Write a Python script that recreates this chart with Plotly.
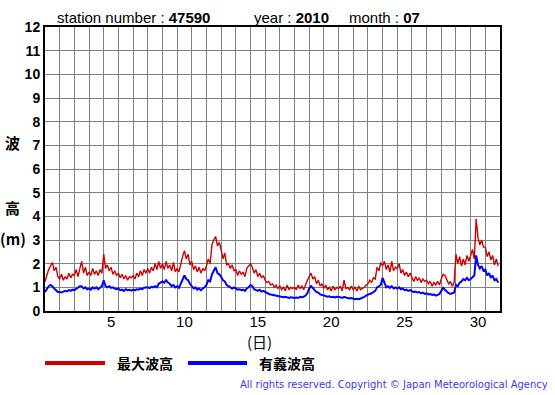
import plotly.graph_objects as go

# ---- data (8 samples per day, 3-hourly) ----
station = "47590"
year = "2010"
month = "07"
samples_per_day = 8

max_wave = [
    1.25, 1.55, 1.75, 1.9, 2.05, 1.7, 1.85, 1.45,
    1.35, 1.55, 1.3, 1.45, 1.35, 1.6, 1.4, 1.55,
    1.5, 1.75, 1.45, 1.8, 2.1, 1.6, 1.85, 1.5,
    1.65, 1.5, 1.8, 1.55, 1.7, 1.5, 1.75, 1.6,
    2.4, 1.8, 1.95, 1.7, 1.85, 1.55, 1.7, 1.5,
    1.6, 1.4, 1.55, 1.35, 1.5, 1.3, 1.45, 1.4,
    1.5, 1.35, 1.6, 1.45, 1.7, 1.5, 1.75, 1.6,
    1.8, 1.6, 1.85, 1.7, 2.0, 1.75, 2.1, 1.8,
    2.0, 1.75, 2.1, 1.8, 1.95, 1.7, 2.05, 1.65,
    1.8, 1.65, 2.0, 2.3, 2.55, 2.2, 2.4, 1.95,
    2.1, 1.75, 1.9, 1.65, 1.85, 1.6, 1.8, 1.7,
    1.9, 2.2, 2.0, 2.8, 3.0, 3.15, 2.75, 2.9,
    2.6, 2.2, 2.45, 1.95, 2.0, 1.8, 1.95, 1.7,
    1.75, 1.5, 1.7, 1.55, 1.65, 1.45, 1.8, 1.9,
    2.0, 1.85, 1.6, 1.75, 1.45, 1.6, 1.4, 1.5,
    1.3, 1.2, 1.25, 1.1, 1.15, 1.0, 1.1, 0.95,
    1.05, 0.9, 1.0, 0.85, 1.1, 0.9, 1.0, 0.95,
    1.0, 0.9, 1.1, 0.95, 1.05, 0.9, 1.15, 1.3,
    1.45, 1.6, 1.35, 1.45, 1.15, 1.3, 1.05, 1.15,
    0.95, 1.1, 0.9, 1.0, 0.85, 1.05, 0.9, 1.0,
    0.95, 1.05, 0.85, 1.3, 0.95, 1.0, 0.9, 1.05,
    0.9, 1.0, 0.85, 1.05, 0.9, 0.95, 1.0, 1.1,
    1.15, 1.3, 1.2, 1.4, 1.35, 1.85, 1.7, 2.05,
    1.9, 2.1, 1.75, 1.95, 1.65, 2.1, 1.7, 1.85,
    1.8, 2.0, 1.6, 1.75, 1.5, 1.65, 1.45, 1.6,
    1.4, 1.25, 1.45, 1.3, 1.4, 1.2, 1.35, 1.25,
    1.3, 1.15, 1.25, 1.05, 1.2, 1.1, 1.25, 1.1,
    1.35, 1.55, 1.5, 1.3, 1.15, 1.25, 1.05, 1.2,
    2.4, 2.0, 2.3, 1.9, 2.2, 1.95, 2.35, 2.1,
    2.4, 2.6, 2.2, 3.9, 3.1, 2.8, 3.0, 2.7,
    2.7, 2.3, 2.5, 2.15, 2.35, 1.95, 2.2, 1.9,
]

sig_wave = [
    0.8, 0.95, 1.05, 1.1, 1.05, 0.95, 0.85, 0.8,
    0.8, 0.78, 0.82, 0.85, 0.83, 0.88, 0.85, 0.9,
    0.88, 0.95, 1.0, 1.05, 1.05, 0.95, 1.0, 0.92,
    0.95, 0.9, 1.0, 0.95, 1.0, 0.92, 0.98, 1.05,
    1.3, 1.05, 1.0, 1.05, 0.98, 1.0, 0.95, 0.92,
    0.95, 0.88, 0.9, 0.85, 0.92, 0.88, 0.9, 0.86,
    0.9, 0.87, 0.92, 0.9, 0.95, 0.92, 0.98, 1.0,
    1.0, 0.97, 1.02, 1.0, 1.05, 1.0, 1.15, 1.2,
    1.25, 1.2, 1.3, 1.2, 1.15, 1.05, 1.1, 1.0,
    1.05, 0.98, 1.15, 1.35, 1.5, 1.35, 1.3, 1.15,
    1.05, 0.95, 1.0, 0.9, 0.95, 0.88, 0.95, 1.0,
    1.1, 1.3, 1.25, 1.55, 1.7, 1.85, 1.6, 1.55,
    1.45, 1.3, 1.25, 1.1, 1.05, 1.0, 0.95, 1.0,
    0.95, 0.9, 0.92, 0.88, 0.9, 0.85, 0.95, 1.0,
    1.1, 1.05, 0.92, 0.88, 0.85, 0.9, 0.82, 0.85,
    0.8, 0.75, 0.72, 0.7, 0.68, 0.65, 0.63, 0.62,
    0.62, 0.6, 0.58, 0.6, 0.57, 0.55, 0.58, 0.56,
    0.55, 0.57, 0.55, 0.6, 0.58, 0.6, 0.65, 0.75,
    0.95, 1.05, 0.95, 0.85, 0.8, 0.78, 0.7, 0.68,
    0.65, 0.62, 0.6, 0.62, 0.58, 0.6, 0.57, 0.6,
    0.6, 0.58, 0.55, 0.6, 0.57, 0.55, 0.53, 0.55,
    0.52, 0.5, 0.52, 0.5, 0.53, 0.55, 0.6, 0.65,
    0.7, 0.72, 0.75, 0.8, 0.85, 1.0, 1.05, 1.1,
    1.4, 1.15, 1.0, 1.05, 0.98, 1.05, 0.95, 1.0,
    0.95, 1.0, 0.92, 0.95, 0.88, 0.9, 0.85, 0.88,
    0.85, 0.8, 0.82, 0.78, 0.8, 0.75, 0.78, 0.72,
    0.75, 0.7, 0.72, 0.68, 0.7, 0.65, 0.68, 0.72,
    0.85, 0.98, 0.9, 0.8, 0.75, 0.72, 0.75, 0.78,
    1.1, 1.05, 1.2, 1.25, 1.35, 1.3, 1.4, 1.3,
    1.35, 1.45, 1.5, 2.35, 1.95, 1.8, 1.9, 1.7,
    1.75, 1.5, 1.6, 1.4, 1.5, 1.3, 1.35, 1.2,
]

day_ticks = [5, 10, 15, 20, 25, 30]
day_labels = ["5", "10", "15", "20", "25", "30"]
series_names = ["最大波高", "有義波高"]

# x position: day 1 00:00 sits at axis value 0.5 (labels at the middle of each day)
xs = [0.5 + i / samples_per_day for i in range(len(max_wave))]

W, H = 555, 395
ML, MR, MT, MB = 45, 55, 27, 84
PW, PH = W - ML - MR, H - MT - MB


def px(x):
    return (x - ML) / PW


def py(y):
    return (H - MB - y) / PH


fig = go.Figure()
fig.add_trace(go.Scatter(x=xs, y=max_wave, mode="lines", name=series_names[0],
                         line=dict(color="#cc0000", width=1.4), showlegend=False))
fig.add_trace(go.Scatter(x=xs, y=sig_wave, mode="lines", name=series_names[1],
                         line=dict(color="#0000ff", width=2), showlegend=False))

fig.update_layout(
    width=W, height=H,
    margin=dict(l=ML, r=MR, t=MT, b=MB),
    paper_bgcolor="white", plot_bgcolor="white",
    font=dict(family="Liberation Sans, Arial", color="black"),
    xaxis=dict(
        range=[0.5, 31.5], tickmode="array", tickvals=day_ticks, ticktext=day_labels,
        showgrid=False, zeroline=False, ticks="", ticklabelstandoff=-4,
        tickfont=dict(size=15, family="Liberation Sans", color="black"),
        showline=True, mirror=True, linecolor="black", linewidth=2,
        minor=dict(tick0=0.5, dtick=1, showgrid=True, gridcolor="#808080", gridwidth=1, ticks=""),
    ),
    yaxis=dict(
        range=[0, 12], dtick=1, tick0=0, showgrid=True, gridcolor="#808080", gridwidth=1,
        zeroline=False, ticks="",
        tickfont=dict(size=14, family="Liberation Sans", color="black", weight="bold"),
        showline=True, mirror=True, linecolor="black", linewidth=2,
    ),
)

ann = []
title_font = dict(size=15, family="Liberation Sans", color="black")
ann.append(dict(x=px(55), y=py(17), text=f"station number : <b>{station}</b>", showarrow=False,
                xanchor="left", yanchor="middle", font=title_font))
ann.append(dict(x=px(252), y=py(17), text=f"year : <b>{year}</b>", showarrow=False,
                xanchor="left", yanchor="middle", font=title_font))
ann.append(dict(x=px(347), y=py(17), text=f"month : <b>{month}</b>", showarrow=False,
                xanchor="left", yanchor="middle", font=title_font))

cjk = dict(size=15, family="Noto Sans CJK JP", color="black", weight="bold")
ann.append(dict(x=px(12.5), y=py(142), text="波", showarrow=False, xanchor="center", yanchor="middle", font=cjk))
ann.append(dict(x=px(12.5), y=py(207), text="高", showarrow=False, xanchor="center", yanchor="middle", font=cjk))
ann.append(dict(x=px(12.5), y=py(238), text="(m)", showarrow=False, xanchor="center", yanchor="middle",
                font=dict(size=15, family="Noto Sans CJK JP", color="black", weight="bold")))
ann.append(dict(x=px(259), y=py(341), text="(日)", showarrow=False, xanchor="center", yanchor="middle",
                font=dict(size=15, family="Noto Sans CJK JP", color="black")))

leg_font = dict(size=14, family="Noto Sans CJK JP", color="black", weight="bold")
ann.append(dict(x=px(115), y=py(363), text=series_names[0], showarrow=False, xanchor="left",
                yanchor="middle", font=leg_font))
ann.append(dict(x=px(257), y=py(363), text=series_names[1], showarrow=False, xanchor="left",
                yanchor="middle", font=leg_font))
ann.append(dict(x=px(550), y=py(385), text="All rights reserved. Copyright © Japan Meteorological Agency",
                showarrow=False, xanchor="right", yanchor="middle",
                font=dict(size=10, family="DejaVu Sans", color="#3a3ae8")))
for a in ann:
    a["xref"] = "paper"
    a["yref"] = "paper"
fig.update_layout(annotations=ann)

fig.add_shape(type="line", xref="paper", yref="paper", x0=px(45), x1=px(105), y0=py(363), y1=py(363),
              line=dict(color="#cc0000", width=4))
fig.add_shape(type="line", xref="paper", yref="paper", x0=px(188), x1=px(247), y0=py(363), y1=py(363),
              line=dict(color="#0000ff", width=4))

fig.write_html("out.html", config={"displayModeBar": False},
               post_script="document.body.style.margin='0';document.body.style.overflow='hidden';")
